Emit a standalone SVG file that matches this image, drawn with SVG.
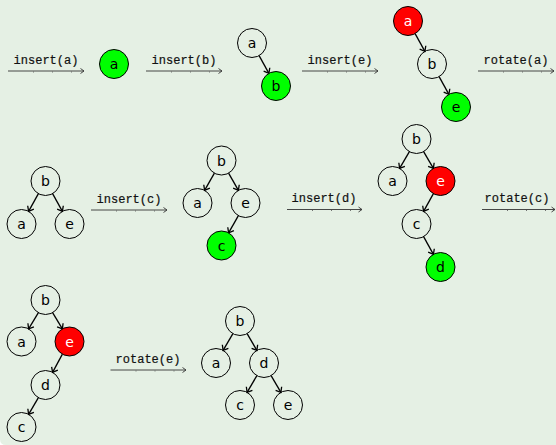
<svg xmlns="http://www.w3.org/2000/svg" width="556" height="445" viewBox="0 0 556 445">
  <style>
    .nd { fill: none; stroke: #000; stroke-width: 1; }
    .new { fill: #00ff00; stroke: #000; stroke-width: 1; }
    .rot { fill: #ff0000; stroke: #000; stroke-width: 1; }
    .lb { font-family: "DejaVu Sans", "Liberation Sans", sans-serif; font-size: 14px; text-anchor: middle; fill: #000; }
    .lbw { fill: #fff; }
    .edge { stroke: #000; stroke-width: 1.3; fill: none; marker-end: url(#tip); }
    .step { stroke: #333; stroke-width: 0.9; fill: none; marker-end: url(#stip); }
    .tick { stroke: #555; stroke-width: 0.8; stroke-dasharray: 1 18; fill: none; }
    .op { font-family: "Liberation Mono", "DejaVu Sans Mono", monospace; font-size: 12px; text-anchor: middle; fill: #111; stroke: #111; stroke-width: 0.2; }
  </style>
  <defs>
    <marker id="tip" markerUnits="userSpaceOnUse" markerWidth="12" markerHeight="12" refX="0" refY="0" viewBox="-6 -6 12 12" orient="auto">
      <path d="M-4.5,-3.5 L0,0 L-4.5,3.5" fill="none" stroke="#000" stroke-width="1.3"/>
    </marker>
    <marker id="stip" markerUnits="userSpaceOnUse" markerWidth="10" markerHeight="10" refX="0" refY="0" viewBox="-5 -5 10 10" orient="auto">
      <path d="M-3.5,-2.5 L0,0 L-3.5,2.5" fill="none" stroke="#333" stroke-width="0.9"/>
    </marker>
  </defs>

  <!-- page background -->
  <rect x="0" y="0" width="556" height="445" fill="#ffffff"/>
  <path d="M0,0 H556 V445 H6 Q0,445 0,439 Z" fill="#e5f0e4"/>

  <!-- operation steps between trees -->
  <g id="steps">
    <text class="op" x="46" y="63.5">insert(a)</text>
    <line class="step" x1="8" y1="71" x2="84" y2="71"/>
    <line class="tick" x1="33" y1="72" x2="84" y2="72"/>

    <text class="op" x="184" y="63.5">insert(b)</text>
    <line class="step" x1="146" y1="71" x2="222" y2="71"/>
    <line class="tick" x1="171" y1="72" x2="222" y2="72"/>

    <text class="op" x="340" y="63.5">insert(e)</text>
    <line class="step" x1="302" y1="71" x2="378" y2="71"/>
    <line class="tick" x1="327" y1="72" x2="378" y2="72"/>

    <text class="op" x="516" y="63.5">rotate(a)</text>
    <line class="step" x1="478" y1="71" x2="554" y2="71"/>
    <line class="tick" x1="503" y1="72" x2="554" y2="72"/>

    <text class="op" x="129" y="202.5">insert(c)</text>
    <line class="step" x1="91" y1="210" x2="167" y2="210"/>
    <line class="tick" x1="116" y1="211" x2="167" y2="211"/>

    <text class="op" x="324" y="202">insert(d)</text>
    <line class="step" x1="287" y1="209.5" x2="362" y2="209.5"/>
    <line class="tick" x1="312" y1="210.5" x2="362" y2="210.5"/>

    <text class="op" x="517" y="202">rotate(c)</text>
    <line class="step" x1="482" y1="209.5" x2="555" y2="209.5"/>
    <line class="tick" x1="507" y1="210.5" x2="555" y2="210.5"/>

    <text class="op" x="148" y="362.5">rotate(e)</text>
    <line class="step" x1="110.5" y1="370" x2="186" y2="370"/>
    <line class="tick" x1="135.5" y1="371" x2="186" y2="371"/>
  </g>

  <!-- tree edges -->
  <g id="edges">
    <line class="edge" x1="259.1" y1="55.6" x2="268.9" y2="73.4"/>

    <line class="edge" x1="415.1" y1="33.6" x2="424.9" y2="51.4"/>
    <line class="edge" x1="439.1" y1="76.6" x2="448.9" y2="94.4"/>

    <line class="edge" x1="38.4" y1="193.6" x2="28.6" y2="211.4"/>
    <line class="edge" x1="52.6" y1="193.6" x2="62.4" y2="211.4"/>

    <line class="edge" x1="214.4" y1="173.1" x2="204.6" y2="190.4"/>
    <line class="edge" x1="228.6" y1="173.1" x2="238.4" y2="190.4"/>
    <line class="edge" x1="238.4" y1="215.6" x2="228.6" y2="232.9"/>

    <line class="edge" x1="409.4" y1="151.6" x2="399.6" y2="168.4"/>
    <line class="edge" x1="423.6" y1="151.6" x2="433.4" y2="168.4"/>
    <line class="edge" x1="433.4" y1="193.6" x2="423.6" y2="211.4"/>
    <line class="edge" x1="423.6" y1="236.6" x2="433.4" y2="254.4"/>

    <line class="edge" x1="38.4" y1="312.6" x2="28.6" y2="328.9"/>
    <line class="edge" x1="52.6" y1="312.6" x2="62.4" y2="328.9"/>
    <line class="edge" x1="62.4" y1="354.1" x2="52.6" y2="372.4"/>
    <line class="edge" x1="38.4" y1="397.6" x2="28.6" y2="414.4"/>

    <line class="edge" x1="232.9" y1="333.6" x2="223.1" y2="350.4"/>
    <line class="edge" x1="247.1" y1="333.6" x2="256.9" y2="350.4"/>
    <line class="edge" x1="256.9" y1="375.6" x2="247.1" y2="392.4"/>
    <line class="edge" x1="271.1" y1="375.6" x2="280.9" y2="392.4"/>
  </g>

  <!-- step 1 -->
  <g id="t1-a"><circle class="new" cx="114" cy="64" r="14.5"/><text class="lb" x="114" y="69">a</text></g>

  <!-- step 2 -->
  <g id="t2-a"><circle class="nd" cx="252" cy="43" r="14.5"/><text class="lb" x="252" y="48">a</text></g>
  <g id="t2-b"><circle class="new" cx="276" cy="86" r="14.5"/><text class="lb" x="276" y="91">b</text></g>

  <!-- step 3 -->
  <g id="t3-a"><circle class="rot" cx="408" cy="21" r="14.5"/><text class="lb lbw" x="408" y="26">a</text></g>
  <g id="t3-b"><circle class="nd" cx="432" cy="64" r="14.5"/><text class="lb" x="432" y="69">b</text></g>
  <g id="t3-e"><circle class="new" cx="456" cy="107" r="14.5"/><text class="lb" x="456" y="112">e</text></g>

  <!-- step 4 -->
  <g id="t4-b"><circle class="nd" cx="45.5" cy="181" r="14.5"/><text class="lb" x="45.5" y="186">b</text></g>
  <g id="t4-a"><circle class="nd" cx="21.5" cy="224" r="14.5"/><text class="lb" x="21.5" y="229">a</text></g>
  <g id="t4-e"><circle class="nd" cx="69.5" cy="224" r="14.5"/><text class="lb" x="69.5" y="229">e</text></g>

  <!-- step 5 -->
  <g id="t5-b"><circle class="nd" cx="221.5" cy="160.5" r="14.5"/><text class="lb" x="221.5" y="165.5">b</text></g>
  <g id="t5-a"><circle class="nd" cx="197.5" cy="203" r="14.5"/><text class="lb" x="197.5" y="208">a</text></g>
  <g id="t5-e"><circle class="nd" cx="245.5" cy="203" r="14.5"/><text class="lb" x="245.5" y="208">e</text></g>
  <g id="t5-c"><circle class="new" cx="221.5" cy="245.5" r="14.5"/><text class="lb" x="221.5" y="250.5">c</text></g>

  <!-- step 6 -->
  <g id="t6-b"><circle class="nd" cx="416.5" cy="139" r="14.5"/><text class="lb" x="416.5" y="144">b</text></g>
  <g id="t6-a"><circle class="nd" cx="392.5" cy="181" r="14.5"/><text class="lb" x="392.5" y="186">a</text></g>
  <g id="t6-e"><circle class="rot" cx="440.5" cy="181" r="14.5"/><text class="lb lbw" x="440.5" y="186">e</text></g>
  <g id="t6-c"><circle class="nd" cx="416.5" cy="224" r="14.5"/><text class="lb" x="416.5" y="229">c</text></g>
  <g id="t6-d"><circle class="new" cx="440.5" cy="267" r="14.5"/><text class="lb" x="440.5" y="272">d</text></g>

  <!-- step 7 -->
  <g id="t7-b"><circle class="nd" cx="45.5" cy="300" r="14.5"/><text class="lb" x="45.5" y="305">b</text></g>
  <g id="t7-a"><circle class="nd" cx="21.5" cy="341.5" r="14.5"/><text class="lb" x="21.5" y="346.5">a</text></g>
  <g id="t7-e"><circle class="rot" cx="69.5" cy="341.5" r="14.5"/><text class="lb lbw" x="69.5" y="346.5">e</text></g>
  <g id="t7-d"><circle class="nd" cx="45.5" cy="385" r="14.5"/><text class="lb" x="45.5" y="390">d</text></g>
  <g id="t7-c"><circle class="nd" cx="21.5" cy="427" r="14.5"/><text class="lb" x="21.5" y="432">c</text></g>

  <!-- step 8 -->
  <g id="t8-b"><circle class="nd" cx="240" cy="321" r="14.5"/><text class="lb" x="240" y="326">b</text></g>
  <g id="t8-a"><circle class="nd" cx="216" cy="363" r="14.5"/><text class="lb" x="216" y="368">a</text></g>
  <g id="t8-d"><circle class="nd" cx="264" cy="363" r="14.5"/><text class="lb" x="264" y="368">d</text></g>
  <g id="t8-c"><circle class="nd" cx="240" cy="405" r="14.5"/><text class="lb" x="240" y="410">c</text></g>
  <g id="t8-e"><circle class="nd" cx="288" cy="405" r="14.5"/><text class="lb" x="288" y="410">e</text></g>
</svg>
